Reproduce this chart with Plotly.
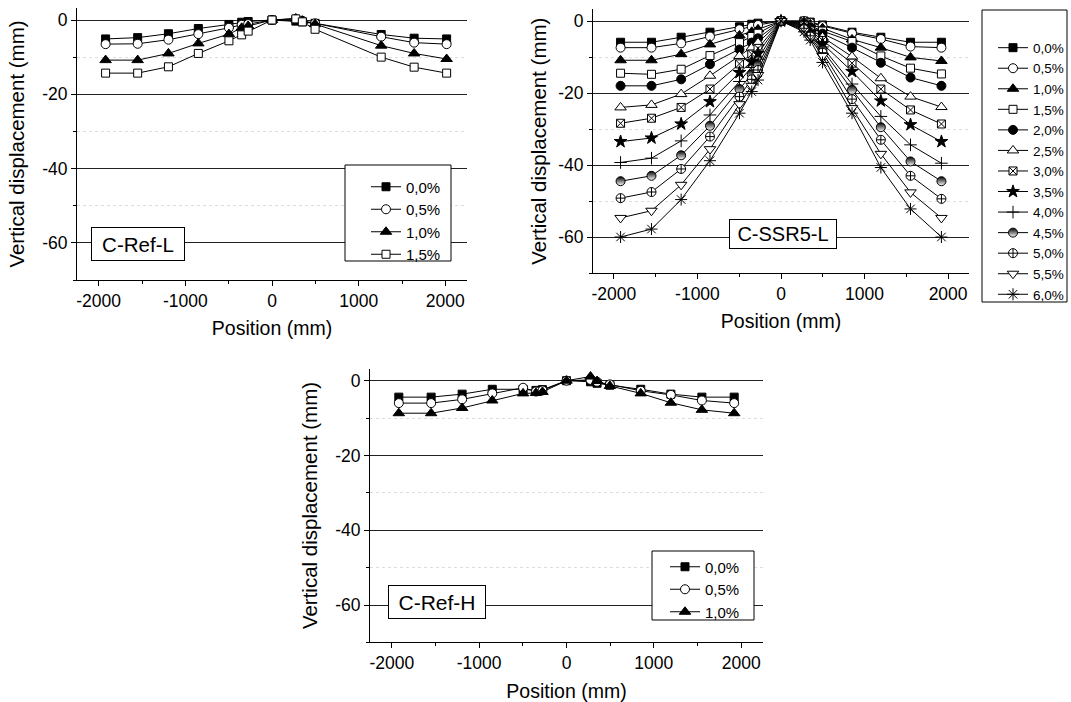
import plotly.graph_objects as go

W, H = 1071, 702

# ---------------- data ----------------
x_ref_l = [-1920, -1550, -1195, -850, -497, -350, -275, 0, 275, 350, 497, 1260, 1640, 2015]
x_full = [-1920, -1550, -1195, -850, -497, -350, -275, 0, 275, 350, 497, 850, 1195, 1550, 1920]

labels_ref_l = ["0,0%", "0,5%", "1,0%", "1,5%"]
ref_l_00 = [-5.1, -4.75, -3.7, -2.3, -1.2, -0.6, -0.4, 0, -0.3, -0.5, -0.9, -3.9, -4.9, -5.1]
ref_l_05 = [-6.5, -6.4, -5.3, -3.8, -2.1, -1.3, -1.1, 0, 0.3, -0.2, -0.9, -4.5, -6.1, -6.5]
ref_l_10 = [-10.8, -10.8, -9.0, -6.3, -3.8, -2.1, -1.6, 0, 0.4, -0.2, -1.1, -6.9, -9.0, -10.5]
ref_l_15 = [-14.3, -14.3, -12.6, -9.0, -5.6, -4.0, -3.0, 0, 0.3, -0.5, -2.5, -10.0, -12.7, -14.3]

labels_ssr = ["0,0%", "0,5%", "1,0%", "1,5%", "2,0%", "2,5%", "3,0%",
              "3,5%", "4,0%", "4,5%", "5,0%", "5,5%", "6,0%"]
ssr_00 = [-5.9, -5.9, -4.5, -3.1, -1.6, -0.9, -0.6, 0, 0, -0.3, -1.1, -3.1, -4.5, -5.9, -5.9]
ssr_05 = [-7.4, -7.4, -6.2, -4.3, -2.3, -1.6, -1.1, 0, 0, -0.5, -1.4, -3.4, -5.0, -7.1, -7.4]
ssr_10 = [-10.9, -10.9, -9.2, -6.5, -4.0, -3.0, -2.3, 0, -0.3, -0.9, -2.0, -5.1, -7.4, -10.1, -11.1]
ssr_15 = [-14.5, -14.8, -13.4, -9.6, -6.0, -4.3, -3.4, 0, -0.5, -1.3, -2.8, -5.7, -9.7, -13.1, -14.7]
ssr_20 = [-18.0, -18.0, -16.2, -12.0, -7.9, -6.0, -4.8, 0, -0.7, -1.7, -3.5, -7.4, -11.6, -15.7, -18.0]
ssr_25 = [-24.0, -23.3, -20.3, -15.2, -9.7, -7.4, -6.0, 0, -1.0, -2.2, -4.5, -9.9, -15.9, -21.0, -23.9]
ssr_30 = [-28.4, -27.0, -24.0, -18.9, -11.9, -9.2, -7.6, 0, -1.2, -2.6, -5.4, -11.7, -18.9, -24.7, -28.6]
ssr_35 = [-33.5, -32.5, -28.6, -22.4, -14.3, -11.3, -9.0, 0, -1.5, -3.0, -6.3, -14.0, -22.2, -28.8, -33.5]
ssr_40 = [-39.3, -38.1, -33.3, -26.1, -16.8, -12.9, -10.6, 0, -1.8, -3.5, -7.2, -17.5, -26.5, -34.4, -39.5]
ssr_45 = [-44.5, -43.0, -37.3, -29.1, -18.9, -14.8, -12.2, 0, -2.1, -3.9, -8.0, -19.1, -29.5, -39.0, -44.5]
ssr_50 = [-49.2, -47.5, -41.1, -32.1, -21.0, -16.2, -13.6, 0, -2.3, -4.3, -8.8, -21.7, -33.0, -43.0, -49.4]
ssr_55 = [-54.7, -52.7, -45.5, -35.6, -23.1, -18.0, -15.0, 0, -2.7, -4.8, -9.7, -24.2, -36.9, -47.6, -54.7]
ssr_60 = [-60.0, -57.8, -49.6, -38.8, -25.6, -19.6, -16.4, 0, -3.0, -5.3, -11.5, -25.6, -40.7, -52.2, -60.0]

labels_ref_h = ["0,0%", "0,5%", "1,0%"]
ref_h_00 = [-4.4, -4.4, -3.6, -2.3, -2.3, -2.6, -2.4, 0, -0.3, -0.7, -1.2, -2.3, -3.6, -4.4, -4.4]
ref_h_05 = [-6.0, -6.0, -5.0, -3.4, -1.9, -2.9, -2.6, 0, 0.2, -0.3, -1.0, -2.7, -3.8, -5.3, -6.0]
ref_h_10 = [-8.7, -8.7, -7.3, -5.3, -3.4, -3.3, -3.0, 0, 1.1, -0.1, -1.4, -3.4, -5.9, -7.8, -8.7]

x_ticks = [-2000, -1000, 0, 1000, 2000]
y_ticks = [0, -20, -40, -60]

# ---------------- styles ----------------
BLACK = "black"
WHITE = "white"
styles = [
    dict(symbol="square", color=BLACK, size=8),
    dict(symbol="circle", color=WHITE, size=9),
    dict(symbol="triangle-up", color=BLACK, size=10),
    dict(symbol="square", color=WHITE, size=8),
    dict(symbol="circle", color=BLACK, size=9),
    dict(symbol="triangle-up", color=WHITE, size=10),
    dict(symbol="square-x", color=WHITE, size=8),
    dict(symbol="star", color=BLACK, size=9.5),
    dict(symbol="cross-thin", color=BLACK, size=9),
    dict(symbol="circle", color=BLACK, size=9, half=True),
    dict(symbol="circle-cross", color=WHITE, size=9),
    dict(symbol="triangle-down", color=WHITE, size=10),
    dict(symbol="asterisk", color=BLACK, size=10),
]


def marker_of(st):
    m = dict(symbol=st["symbol"], size=st["size"], color=st["color"],
             line=dict(color=BLACK, width=1))
    if st.get("half"):
        m["gradient"] = dict(type="vertical", color=WHITE)
    return m


def px_x(p):
    return p / W


def px_y(p):
    return 1 - p / H


fig = go.Figure()

panels = [
    ("x", "y", "legend", x_ref_l, [ref_l_00, ref_l_05, ref_l_10, ref_l_15], labels_ref_l),
    ("x2", "y2", "legend2", x_full,
     [ssr_00, ssr_05, ssr_10, ssr_15, ssr_20, ssr_25, ssr_30, ssr_35, ssr_40, ssr_45, ssr_50, ssr_55, ssr_60],
     labels_ssr),
    ("x3", "y3", "legend3", x_full, [ref_h_00, ref_h_05, ref_h_10], labels_ref_h),
]

for xa, ya, lg, xs, series, labels in panels:
    for i, (vals, lab) in enumerate(zip(series, labels)):
        fig.add_trace(go.Scatter(
            x=xs, y=vals, mode="lines+markers", name=lab,
            xaxis=xa, yaxis=ya, legend=lg,
            line=dict(color=BLACK, width=1),
            marker=marker_of(styles[i]),
            hoverinfo="skip",
        ))

FONT = "Liberation Sans, Arial, sans-serif"

def xaxis_cfg(x0, x1, anchor):
    return dict(
        domain=[px_x(x0), px_x(x1)], anchor=anchor, range=[-2250, 2250],
        tickmode="array", tickvals=x_ticks, ticktext=[str(v) for v in x_ticks],
        ticks="outside", ticklen=5, tickcolor=BLACK, tickwidth=1,
        minor=dict(ticks="outside", ticklen=3, dtick=500, tick0=0, tickcolor=BLACK),
        showline=True, linecolor=BLACK, linewidth=1, mirror=False,
        showgrid=False, zeroline=False,
        tickfont=dict(size=17.5, color=BLACK, family=FONT),
        title=dict(text="Position (mm)", font=dict(size=19.5, color=BLACK, family=FONT), standoff=11),
    )


def yaxis_cfg(ytop, ybot, anchor, standoff=12):
    return dict(
        domain=[px_y(ybot), px_y(ytop)], anchor=anchor, range=[-70, 3.23],
        tickmode="array", tickvals=y_ticks, ticktext=[str(v) for v in y_ticks],
        ticks="outside", ticklen=5, tickcolor=BLACK, tickwidth=1,
        minor=dict(ticks="outside", ticklen=3, dtick=10, tick0=0, tickcolor=BLACK,
                   showgrid=True, gridcolor="#dedede", griddash="dot", gridwidth=1),
        showline=True, linecolor=BLACK, linewidth=1, mirror=False,
        showgrid=True, gridcolor="#222222", gridwidth=1, zeroline=False,
        tickfont=dict(size=17.5, color=BLACK, family=FONT),
        title=dict(text="Vertical displacement (mm)", font=dict(size=20.5, color=BLACK, family=FONT),
                   standoff=standoff),
    )


def legend_cfg(xpx, ypx, size):
    return dict(x=px_x(xpx), y=px_y(ypx), xanchor="left", yanchor="top",
                bgcolor="rgba(0,0,0,0)", borderwidth=0,
                font=dict(size=size, color=BLACK, family=FONT),
                itemclick=False, itemdoubleclick=False)


def box(x0, y0, x1, y1):
    return dict(type="rect", xref="paper", yref="paper",
                x0=px_x(x0), x1=px_x(x1), y0=px_y(y1), y1=px_y(y0),
                line=dict(color=BLACK, width=1), fillcolor=WHITE, layer="above")


def label(text, cx, cy, w, h, size):
    return dict(text=text, xref="paper", yref="paper", x=px_x(cx), y=px_y(cy),
                xanchor="center", yanchor="middle", showarrow=False,
                width=w, height=h, bordercolor=BLACK, borderwidth=1, borderpad=1,
                bgcolor=WHITE, font=dict(size=size, color=BLACK, family=FONT))


fig.update_layout(
    width=W, height=H, autosize=False,
    margin=dict(l=0, r=0, t=0, b=0),
    paper_bgcolor=WHITE, plot_bgcolor=WHITE,
    font=dict(family=FONT, color=BLACK),
    hovermode=False,
    xaxis=xaxis_cfg(77, 467, "y"),
    yaxis=yaxis_cfg(8, 280, "x"),
    xaxis2=xaxis_cfg(593, 969, "y2"),
    yaxis2=yaxis_cfg(9.4, 273, "x2", standoff=6),
    xaxis3=xaxis_cfg(370, 763, "y3"),
    yaxis3=yaxis_cfg(368.6, 642.4, "x3"),
    legend=legend_cfg(366, 170.5, 15),
    legend2=legend_cfg(993, 32.4, 13.5),
    legend3=legend_cfg(665, 550.5, 15),
    shapes=[box(345, 165, 451, 261), box(982, 10, 1067, 302), box(652, 551, 754, 620)],
    annotations=[
        label("C-Ref-L", 138, 244, 90, 30, 20.5),
        label("C-SSR5-L", 783, 234, 104, 26, 20),
        label("C-Ref-H", 437, 602, 94, 30, 21),
    ],
)

fig.write_html("out.html", config={"displayModeBar": False},
               post_script="document.body.style.margin='0px';")
